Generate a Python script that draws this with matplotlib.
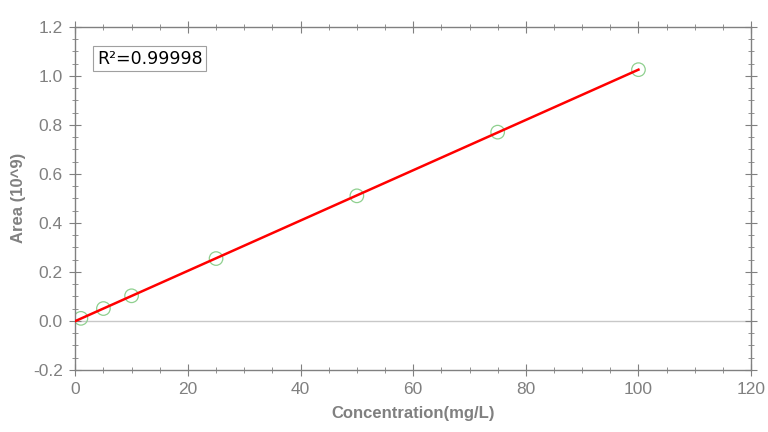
import matplotlib
matplotlib.use('Agg')
import matplotlib.pyplot as plt
import numpy as np
from matplotlib.ticker import MultipleLocator

# calibration points
conc = [1, 5, 10, 25, 50, 75, 100]
area = [0.010, 0.050, 0.102, 0.254, 0.510, 0.770, 1.025]
r2_text = 'R\u00b2=0.99998'

grey = '#808080'
plt.rcParams['font.family'] = ['Liberation Sans', 'DejaVu Sans']

fig = plt.figure(figsize=(7.68, 4.32), dpi=100)
ax = fig.add_axes([0.098, 0.144, 0.880, 0.794])

# fitted line through the points
slope, icpt = np.polyfit(conc, area, 1)
xfit = np.array([0, max(conc)])
ax.axhline(0, color='#c8c8c8', lw=1, zorder=1)
ax.plot(xfit, slope * xfit + icpt, color='red', lw=1.8, zorder=3)
ax.scatter(conc, area, s=95, facecolors='none', edgecolors='#8fd08f',
           linewidths=0.9, zorder=2)

ax.set_xlim(0, 120)
ax.set_ylim(-0.2, 1.2)
ax.xaxis.set_major_locator(MultipleLocator(20))
ax.xaxis.set_minor_locator(MultipleLocator(5))
ax.yaxis.set_major_locator(MultipleLocator(0.2))
ax.yaxis.set_minor_locator(MultipleLocator(0.05))
ax.yaxis.set_major_formatter(plt.FuncFormatter(lambda v, p: '%.1f' % v))

for s in ax.spines.values():
    s.set_color(grey)
    s.set_linewidth(1)
ax.tick_params(which='both', direction='inout', colors=grey, labelsize=12.5,
               top=True, right=True, labelcolor=grey)
ax.tick_params(which='major', length=8, pad=5)
ax.tick_params(which='minor', length=5)

ax.set_xlabel('Concentration(mg/L)', fontsize=12, fontweight='bold',
              color=grey, labelpad=6)
ax.set_ylabel('Area (10^9)', fontsize=12, fontweight='bold',
              color=grey, labelpad=5)

ax.text(0.032, 0.933, r2_text, transform=ax.transAxes, fontsize=12.5,
        va='top', ha='left', color='black', family='DejaVu Sans',
        bbox=dict(boxstyle='square,pad=0.2', facecolor='white',
                  edgecolor='#a0a0a0', lw=0.8))

fig.savefig('out.png', dpi=100)
